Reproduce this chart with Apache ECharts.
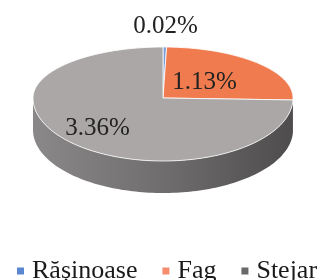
<!DOCTYPE html>
<html>
<head>
<meta charset="utf-8">
<script src="https://cdn.jsdelivr.net/npm/echarts@6/dist/echarts.min.js"></script>
<style>
html, body { margin: 0; padding: 0; background: #fff; }
#chart { width: 324px; height: 280px; }
</style>
</head>
<body>
<div id="chart"></div>
<script>
// values from the chart
var categories = ['Rășinoase', 'Fag', 'Stejar'];
var values = [0.02, 1.13, 3.36];
var labels = ['0.02%', '1.13%', '3.36%'];

var topColors = ['#7c9edb', '#f07b4e', '#aaa7a6'];
var legendColors = ['#5b87d2', '#f58d6e', '#6a6868'];
var labelRadius = [1.4, 0.44, 0.7];

// 3d ellipse geometry
var cx = 163, cy = 98, rx = 130, ryBack = 51, ryFront = 63, depth = 32;

var total = values.reduce(function(a, b) { return a + b; }, 0);
var starts = [];
var acc = 0;
for (var i = 0; i < values.length; i++) {
    starts.push(acc / total * 360);
    acc += values[i];
}

function pt(deg, k, dy) {
    var r = deg * Math.PI / 180;
    var c = Math.cos(r);
    var ry = c > 0 ? ryBack : ryFront;
    return [cx + rx * k * Math.sin(r), cy - ry * k * c + (dy || 0)];
}

function arc(a, b, dy) {
    var pts = [];
    var n = Math.max(2, Math.ceil((b - a) / 1.5));
    for (var j = 0; j <= n; j++) {
        pts.push(pt(a + (b - a) * j / n, 1, dy));
    }
    return pts;
}

function makeRender(idx) {
    return function(params, api) {
        var a = starts[idx];
        var b = a + api.value(0) / total * 360;
        var children = [];

        // side band, only the front half shows
        var sa = Math.max(a, 90), sb = Math.min(b, 270);
        if (sb > sa) {
            var upper = arc(sa, sb, 0);
            var lower = arc(sa, sb, depth).reverse();
            children.push({
                type: 'polygon',
                shape: { points: upper.concat(lower) },
                style: {
                    fill: new echarts.graphic.LinearGradient(0, 0, 1, 0, [
                        { offset: 0, color: '#8a8888' },
                        { offset: 0.5, color: '#6f6d6d' },
                        { offset: 1, color: '#4e4c4c' }
                    ])
                }
            });
        }

        var top = [[cx, cy]].concat(arc(a, b, 0));
        children.push({
            type: 'polygon',
            shape: { points: top },
            style: { fill: topColors[idx], stroke: 'rgba(255,255,255,0.8)', lineWidth: 1 }
        });

        var lp = pt((a + b) / 2, labelRadius[idx], 0);
        children.push({
            type: 'text',
            style: {
                text: labels[idx],
                x: lp[0],
                y: lp[1],
                fill: '#222',
                fontSize: 25,
                fontFamily: 'Liberation Serif',
                align: 'center',
                verticalAlign: 'middle'
            }
        });
        return { type: 'group', children: children };
    };
}

var series = [];
for (var s = 0; s < categories.length; s++) {
    series.push({
        type: 'custom',
        name: categories[s],
        coordinateSystem: 'none',
        itemStyle: { color: legendColors[s] },
        data: [[values[s]]],
        renderItem: makeRender(s)
    });
}

var chart = echarts.init(document.getElementById('chart'));
chart.setOption({
    animation: false,
    legend: {
        data: categories,
        left: 12,
        top: 253,
        width: 400,
        icon: 'rect',
        itemWidth: 7,
        itemHeight: 7,
        itemGap: 25,
        textStyle: { fontFamily: 'Liberation Serif', fontSize: 26, color: '#1a1a1a', padding: [0, 0, 0, 3] }
    },
    series: series
});
</script>
</body>
</html>
